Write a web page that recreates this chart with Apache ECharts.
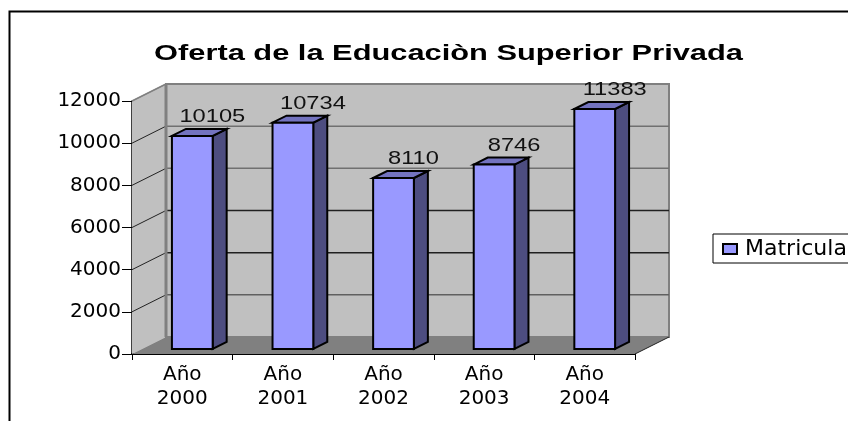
<!DOCTYPE html>
<html><head><meta charset="utf-8">
<style>html,body{margin:0;padding:0;background:#fff;overflow:hidden}#c{width:848px;height:421px}</style>
<script src="https://cdn.jsdelivr.net/npm/echarts@6/dist/echarts.min.js"></script>
</head><body><div id="c"></div>
<script>
const chartTitle = 'Oferta de la Educaciòn Superior Privada';
const seriesName = 'Matricula';
const categories = ['Año\n2000', 'Año\n2001', 'Año\n2002', 'Año\n2003', 'Año\n2004'];
const values = [10105, 10734, 8110, 8746, 11383];
const yTicks = [0, 2000, 4000, 6000, 8000, 10000, 12000];
const tickShades = ['#7a7a7a', '#606060', '#202020', '#202020', '#707070', '#707070', '#808080'];

const FONT = '"DejaVu Sans"';
const LIB = '"Liberation Sans"';
const WALL_DX = 34, WALL_DY = -17;   // 3D offset of the back wall
const BAR_DX = 14, BAR_DY = -7;      // 3D depth of each column
const BAR_SHIFT_X = 10, BAR_SHIFT_Y = -5; // column position inside the floor

function poly(points, fill, stroke, lineWidth) {
  return { type: 'polygon', shape: { points }, style: { fill, stroke: stroke || 'none', lineWidth: lineWidth || 0 } };
}
function seg(x1, y1, x2, y2, stroke, lineWidth) {
  return { type: 'line', shape: { x1, y1, x2, y2 }, style: { stroke, lineWidth } };
}

function renderWalls(params, api) {
  const g = params.coordSys;
  const L = g.x, R = g.x + g.width, T = g.y, B = g.y + g.height;
  const dx = WALL_DX, dy = WALL_DY;
  const kids = [
    poly([[L, T], [L + dx, T + dy], [L + dx, B + dy], [L, B]], '#C0C0C0'),
    poly([[L + dx, T + dy], [R + dx, T + dy], [R + dx, B + dy], [L + dx, B + dy]], '#C0C0C0', '#808080', 2),
    poly([[L, B], [L + dx, B + dy], [R + dx, B + dy], [R, B]], '#808080')
  ];
  yTicks.forEach((t, i) => {
    const y = api.coord([0, t])[1];
    if (t > 0 && t < yTicks[yTicks.length - 1]) {
      kids.push(seg(L + dx, y + dy, R + dx, y + dy, tickShades[i], 1.5));
    }
    if (t > 0) {
      kids.push(seg(L, y, L + dx, y + dy, t === yTicks[yTicks.length - 1] ? '#808080' : '#222', 1));
    }
  });
  kids.push(seg(L, T, L + dx, T + dy, '#808080', 1.5));
  kids.push(seg(R, B, R + dx, B + dy, '#222', 1));
  kids.push(seg(L + dx, T + dy, L + dx, B + dy, '#808080', 3));
  return { type: 'group', children: kids };
}

function renderBar(params, api) {
  const idx = api.value(0), val = api.value(1);
  const top = api.coord([idx, val]), base = api.coord([idx, 0]);
  const w = api.size([1, 0])[0] * 0.405;
  const x0 = top[0] - w / 2 + BAR_SHIFT_X, x1 = x0 + w;
  const yT = top[1] + BAR_SHIFT_Y, yB = base[1] + BAR_SHIFT_Y;
  const ln = '#000';
  return {
    type: 'group',
    children: [
      poly([[x1, yT], [x1 + BAR_DX, yT + BAR_DY], [x1 + BAR_DX, yB + BAR_DY], [x1, yB]], '#4D4D80', ln, 2),
      poly([[x0, yT], [x0 + BAR_DX, yT + BAR_DY], [x1 + BAR_DX, yT + BAR_DY], [x1, yT]], '#7373BF', ln, 2),
      poly([[x0, yT], [x1, yT], [x1, yB], [x0, yB]], '#9999FF', ln, 2),
      { type: 'text', x: (x0 + x1) / 2 + 20, y: yT - 19, scaleX: 1.28, style: {
          text: String(val), x: 0, y: 0,
          align: 'center', verticalAlign: 'middle',
          font: '18.5px ' + LIB, fill: '#111'
      } }
    ]
  };
}

const chart = echarts.init(document.getElementById('c'), null, { renderer: 'canvas' });
chart.setOption({
  animation: false,
  backgroundColor: '#fff',
  legend: {
    left: 713, top: 234, orient: 'vertical',
    data: [{ name: seriesName, icon: 'rect' }],
    itemWidth: 14, itemHeight: 10, itemGap: 0,
    padding: [4, 10, 3, 9],
    backgroundColor: '#fff', borderColor: '#000', borderWidth: 1,
    itemStyle: { color: '#9999FF', borderColor: '#000', borderWidth: 2 },
    textStyle: { fontFamily: FONT, fontSize: 22, color: '#000', lineHeight: 22, padding: [0, 0, 0, 3] }
  },
  grid: { left: 132, right: 213, top: 101, bottom: 67 },
  xAxis: {
    type: 'category', data: categories, boundaryGap: true,
    axisLine: { lineStyle: { color: '#000', width: 2 } },
    axisTick: { show: true, alignWithLabel: false, length: 6, lineStyle: { color: '#000' } },
    axisLabel: { fontFamily: FONT, fontSize: 20, color: '#000', lineHeight: 24, margin: 9, interval: 0 }
  },
  yAxis: {
    type: 'value', min: 0, max: 12000, interval: 2000,
    axisLine: { show: true, lineStyle: { color: '#000', width: 1.5 } },
    axisTick: { show: true, length: 10, lineStyle: { color: '#000' } },
    splitLine: { show: false },
    axisLabel: { fontFamily: FONT, fontSize: 20, color: '#000', margin: 11, formatter: v => String(v) }
  },
  graphic: [{
    type: 'rect', silent: true, z: -10,
    shape: { x: 9.5, y: 11.5, width: 1000, height: 600 },
    style: { fill: '#fff', stroke: '#000', lineWidth: 2 }
  }, {
    type: 'text', silent: true, z: 10, x: 448.5, y: 53.5, scaleX: 1.4,
    style: { text: chartTitle, x: 0, y: 0, align: 'center', verticalAlign: 'middle',
             font: 'bold 22px ' + LIB, fill: '#000' }
  }],
  series: [
    { type: 'custom', name: 'walls', silent: true, z: 1, clip: false, renderItem: renderWalls, data: [[0, 0]], encode: { x: 0, y: 1 } },
    { type: 'custom', name: seriesName, silent: true, z: 2, clip: false, renderItem: renderBar,
      itemStyle: { color: '#9999FF', borderColor: '#000', borderWidth: 2 },
      data: values.map((v, i) => [i, v]), encode: { x: 0, y: 1 } }
  ]
});
</script></body></html>
